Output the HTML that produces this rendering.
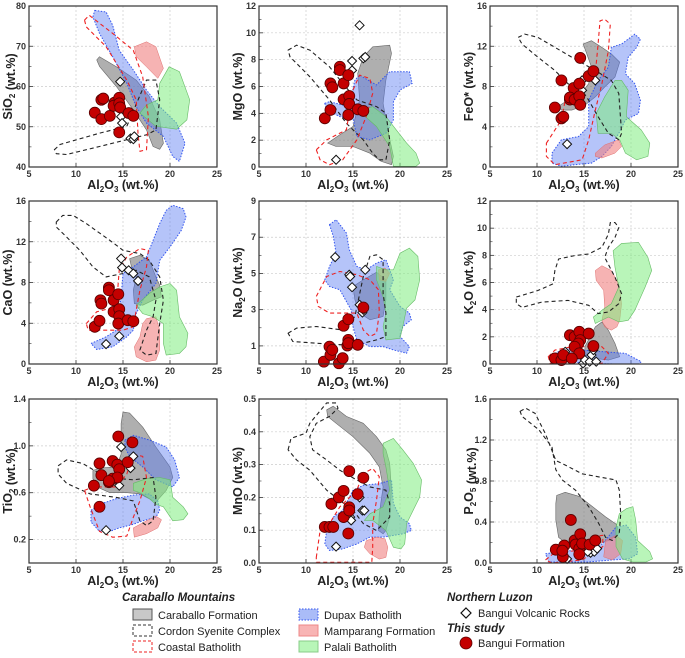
<!DOCTYPE html>
<html><head><meta charset="utf-8"><style>
body{margin:0;background:#fff;width:685px;height:653px;overflow:hidden;font-family:"Liberation Sans",Arial,sans-serif}
svg text{font-family:"Liberation Sans",Arial,sans-serif}
</style></head><body>
<svg id="chart" width="685" height="653" viewBox="0 0 685 653" xmlns="http://www.w3.org/2000/svg"></svg>
<script>
// ---- data ----
const xTicks=[5,10,15,20,25];
const panelIds=['sio2','mgo','feo','cao','na2o','k2o','tio2','mno','p2o5'];
const yLabels=[['SiO','2',''],['MgO','',''],['FeO*','',''],['CaO','',''],['Na','2','O'],['K','2','O'],['TiO','2',''],['MnO','',''],['P','2','O5']];
const yMins=[40,0,0,0,0,0,0,0,0];
const yMaxs=[80,12,16,16,9,12,1.4,0.5,1.6];
const yTickSets=[[40,50,60,70,80],[0,2,4,6,8,10,12],[0,4,8,12,16],[0,4,8,12,16],[1,3,5,7,9],[0,2,4,6,8,10,12],[0.2,0.6,1.0,1.4],[0.0,0.1,0.2,0.3,0.4,0.5],[0.0,0.4,0.8,1.2,1.6]];
const yTickDec=[0,0,0,0,0,0,1,1,1];

const caraballoFields=[
[[12.2,66.6],[12.5,67.4],[14.3,64.9],[16.4,61.6],[17.8,57.5],[18.9,51.7],[19.3,45.9],[18.9,44.4],[18.2,45.1],[17.5,49.2],[16.1,54.2],[14.3,60],[12.5,65]],
[[12.3,1.78],[13.6,2.4],[15,3.02],[15.7,5],[15.5,6.98],[16.1,8.21],[17.1,8.96],[18.9,9.08],[19.1,8.46],[18.5,6.48],[18.2,4.75],[18.7,2.77],[19.3,0.79],[19.1,0.17],[18,0.42],[16.8,1.03],[15,1.53],[13.2,1.53]],
[[14.9,12.22],[15.8,12.55],[16.9,11.89],[17.9,11.24],[18.8,10.42],[18.3,8.94],[17.2,7.95],[16.2,6.97],[15.1,6.14],[13.7,5.65],[12.6,5.65],[12.3,6.05],[13,6.47],[14.4,6.97],[15.5,8.28],[15.8,9.92],[15.3,11.24]],
[[15.7,10.35],[16.8,10.67],[17.8,10.18],[18.5,8.55],[18.9,7.73],[19.1,6.59],[18.2,6.26],[17.1,5.77],[16.2,5.93],[16.1,7.24],[16.4,8.55],[15.9,9.53]],
[[15,4.28],[16.1,4.65],[17.5,5.07],[18.5,4.65],[18.5,3.54],[18.2,2.62],[16.8,2.44],[15.7,2.81],[15.2,3.54]],
[[15.1,1.27],[16.2,2.73],[16.9,3.1],[17.6,2.49],[18.3,1.51],[18.8,0.54],[17.6,0.29],[16.2,0.41],[15.1,0.66]],
[[11.8,0.79],[12.5,0.81],[14.3,0.82],[14.8,0.93],[14.8,1.19],[15,1.29],[15.7,1.28],[17.1,1.16],[18.5,0.99],[20,0.82],[20.3,0.73],[19.6,0.62],[18.5,0.52],[17.5,0.56],[16.8,0.59],[15.4,0.6],[13.6,0.6],[12.2,0.65],[11.8,0.72]],
[[12.2,0.467],[12.9,0.478],[14.3,0.447],[16.1,0.426],[17.5,0.385],[18.5,0.345],[18.9,0.304],[19.1,0.222],[18.9,0.14],[18.5,0.099],[18.2,0.089],[17.7,0.099],[17.8,0.15],[18.2,0.232],[17.8,0.293],[16.8,0.334],[15,0.385],[13.2,0.426],[12.3,0.447]],
[[12.1,0.66],[13,0.69],[14.5,0.65],[15.9,0.55],[17.3,0.45],[18.4,0.38],[18.75,0.29],[17.7,0.22],[16.25,0.19],[14.8,0.16],[13.4,0.17],[12.3,0.25],[12,0.42],[12,0.58]]
];
const dupaxFields=[
[[[12,78.9],[13.2,78.5],[13.9,75.2],[14.6,69],[16.1,64.1],[17.5,59.1],[18.9,55],[20.7,50.9],[21.6,45.9],[21,41.4],[20.3,42.6],[19.3,47.6],[17.5,50.9],[16.4,55],[15.4,60.8],[13.9,67.4],[12.5,73.2],[11.8,77.3]]],
[[[12,4.75],[12.5,4.87],[14.6,4.5],[15.2,6.48],[15.7,6.85],[17.5,6.11],[18.9,7.1],[21,7.1],[21.3,6.23],[20,5.74],[19.3,4.87],[19.3,3.51],[18.5,2.52],[16.8,2.02],[15.4,2.27],[15,3.63],[13.6,3.76],[12.2,4.25]]],
[[[11.6,1.38],[12.6,2.7],[14.4,3.02],[15.5,4.01],[15.5,6.64],[16.5,8.61],[17.6,9.92],[17.9,11.89],[19,12.22],[20.4,13.2],[21,12.7],[20.6,11.89],[19.7,10.91],[19.4,9.26],[20.4,8.28],[21,6.64],[20.8,5.32],[19.4,4.67],[18.7,3.35],[17.9,2.04],[16.9,1.05],[15.8,0.39],[14,0.23],[12.6,0.07],[11.6,0.39]]],
[[[11.6,2.01],[13.2,2.67],[14.3,3.32],[14.8,6.59],[15,8.88],[16.1,9.53],[17.5,10.51],[18.2,12.14],[18.9,13.78],[19.6,15.08],[20.3,15.58],[21.4,15.25],[21.7,14.43],[21.2,13.12],[20,11.49],[18.9,10.18],[18.5,7.9],[17.1,6.26],[16.4,4.95],[16.1,3.32],[15.4,2.67],[13.9,1.69],[12.2,1.42]]],
[[[12.5,7.69],[13.2,7.97],[14.3,7.23],[14.6,6.31],[15.4,5.39],[16.4,5.2],[17.5,5.57],[18.5,5.76],[19.3,4.65],[18.9,4.1],[20,3.18],[21,2.81],[21.2,2.44],[20.3,2.07],[20,1.52],[21,0.96],[20.7,0.59],[19.3,0.78],[18.2,0.96],[16.8,0.96],[15.4,1.33],[15,2.07],[14.8,2.99],[13.6,4.1],[12.5,4.28],[12,4.65],[12.5,5.39],[13.2,6.12],[12.9,7.05]]],
[[[11.9,0.78],[13,1.15],[14.8,1.02],[17.2,0.9],[19.4,0.78],[21.1,0.17],[20.8,0],[18.3,0],[15.5,0.05],[13,0.17],[11.9,0.41]]],
[[[15.2,1.05],[16.1,1.09],[17.8,1.05],[19.6,0.99],[20.5,0.88],[21,0.73],[20.3,0.65],[18.5,0.71],[17.1,0.82],[15.7,0.91],[15.2,0.99]],
 [[11.6,0.45],[12.5,0.5],[14.3,0.55],[16.1,0.58],[17.8,0.59],[18.7,0.53],[18.9,0.45],[18.5,0.39],[17.1,0.36],[16.1,0.33],[14.6,0.3],[13.6,0.27],[12.5,0.27],[11.6,0.35]]],
[[[12.2,0.099],[12.9,0.14],[13.9,0.161],[15,0.222],[16.1,0.237],[17.8,0.242],[19.1,0.253],[19.3,0.181],[20,0.14],[21,0.12],[21.2,0.099],[20.3,0.089],[18.2,0.079],[16.8,0.079],[15.4,0.058],[13.9,0.043],[12.5,0.038],[12,0.058]]],
[[[10.9,0.09],[13,0.12],[15.5,0.12],[17,0.19],[18.4,0.35],[19.5,0.37],[20.5,0.25],[20.7,0.09],[19.8,0.04],[18,0.03],[15.5,0.01],[13,0.01],[11.25,0.01]]]
];
const mamparangFields=[
[[16.2,69.9],[17.5,71.1],[18.5,69.9],[19.3,64.5],[18.7,62],[17.5,64.9],[16.4,67.4]],
[],
[[16.2,1.38],[17.2,2.2],[18.7,2.7],[19,2.04],[18.3,1.38],[16.9,0.89],[16.2,1.05]],
[[17.5,4.46],[18.5,4.63],[18.9,3.32],[18.9,1.36],[18.5,0.38],[17.5,0.22],[16.4,0.71],[16.2,1.69],[16.8,2.67],[17.1,3.97]],
[[17.7,5.2],[18.4,5.3],[18.9,5.02],[18.5,4.56],[17.8,4.65]],
[[16.2,6.88],[16.9,7.24],[17.9,6.88],[18.7,5.9],[19,4.44],[18.8,3.22],[18.5,2.73],[17.9,2.49],[17.2,2.73],[16.9,3.22],[17.2,4.2],[17.1,5.41],[16.3,6.15]],
[[16.1,0.3],[17.5,0.36],[18.5,0.4],[19.1,0.37],[18.7,0.3],[17.5,0.25],[16.2,0.22]],
[[16.4,0.068],[17.5,0.079],[18.4,0.074],[18.7,0.048],[18.5,0.017],[17.8,0.012],[16.8,0.028],[16.2,0.048]],
[[17.3,0.22],[18.4,0.27],[19.1,0.22],[18.9,0.09],[18,0.03],[17.1,0.06]]
];
const palaliFields=[
[[18.9,60.8],[19.9,64.9],[21,63.7],[22.1,56.7],[21.8,51.7],[20.7,49.4],[18.5,50.1],[16.8,53.4],[17.5,55.4],[18.7,56.7]],
[[16.1,4.25],[17.1,4.5],[18.5,3.76],[19.6,2.77],[20.7,1.78],[21.7,1.03],[22.1,0.29],[21.7,0.05],[19.3,0.05],[18.9,1.53],[17.5,3.02],[16.1,3.88]],
[[18.3,8.61],[19,8.61],[19.7,7.62],[19.5,5],[21.1,3.68],[22,2.37],[21.8,1.05],[20.6,0.72],[19.4,1.38],[18.8,2.7],[17.9,3.35],[16.5,3.35],[16.3,5.32],[17.2,6.97]],
[[16.4,5.77],[17.8,6.92],[18.9,7.57],[20,7.9],[20.7,7.24],[21,4.63],[21.9,3],[21.7,1.69],[21,1.03],[19.6,0.87],[19.3,2.01],[19.3,3.97],[18.2,4.63],[17.1,4.95]],
[[17.5,5.39],[18.5,5.2],[19.3,5.2],[20,6.12],[21,6.4],[21.9,5.94],[22.1,4.65],[21.6,3.54],[20.7,3.08],[20.3,2.07],[20,1.42],[18.5,1.33],[18.2,2.07],[18.5,2.81],[18.2,3.72],[17.5,4.65]],
[[18.1,8.34],[19,8.88],[20.8,8.95],[21.8,7.85],[22.2,6.88],[21.5,5.66],[20.4,3.95],[19.7,3.22],[18.7,3.1],[17.6,3.46],[16.2,2.98],[16,3.46],[16.9,3.95],[17.9,4.44],[18.7,5.66],[18.3,7.12]],
[[16.1,0.68],[17.5,0.72],[18.9,0.73],[20,0.71],[20.3,0.56],[21.4,0.48],[21.9,0.42],[21.4,0.37],[20.3,0.36],[19.3,0.48],[18.5,0.5],[17.8,0.55],[16.8,0.6],[16.1,0.62]],
[[18.2,0.365],[19.3,0.38],[20.3,0.345],[21.4,0.304],[22.3,0.253],[22.1,0.201],[21.4,0.161],[20.7,0.12],[20.5,0.058],[20.1,0.043],[19.3,0.048],[18.5,0.099],[17.1,0.13],[16.2,0.13],[16.8,0.15],[18.2,0.171],[18.9,0.222],[18.5,0.293],[18.2,0.334]],
[[18.4,0.35],[18.75,0.48],[19.5,0.53],[20.2,0.55],[20.5,0.42],[20.7,0.22],[22,0.11],[22.3,0.04],[21.6,0.01],[20.2,0.01],[19.1,0.04],[18.4,0.16]]
];
const cordonFields=[
[[7.7,44.3],[8.3,45.6],[12.5,48.4],[15.4,50.1],[17.5,61.6],[18.5,61.6],[18.9,56.7],[18.5,49.2],[17.5,48],[12.5,45.1],[9,43.1],[7.9,43.3]],
[[8.1,8.71],[9,9.08],[10.4,8.71],[12.5,7.47],[13.9,6.23],[15.4,5],[17.5,4.5],[18.5,4.01],[18.9,2.02],[18.5,0.54],[17.8,0.54],[17.1,1.03],[16.1,2.02],[14.3,3.26],[12.5,5],[10.4,6.73],[8.3,8.21]],
[[8,12.88],[8.7,13.21],[10.1,12.88],[13.7,10.91],[16.2,9.59],[17.9,8.61],[18.7,7.3],[19,3.35],[18.7,2.7],[17.6,3.35],[16.5,5],[15.5,6.64],[14.8,7.62],[13.3,8.28],[11.9,9.59],[10.1,10.91],[8.4,12.22]],
[[7.9,13.94],[8.6,14.59],[9.7,14.59],[11.1,13.78],[13.6,12.14],[15,11.16],[16.8,10.84],[17.8,10.18],[18.9,8.55],[19.3,6.26],[18.9,3.97],[18.5,1.03],[17.5,0.87],[16.8,1.36],[17.5,3.32],[18.2,4.63],[18.5,6.26],[17.8,8.55],[16.4,9.2],[15,8.88],[13.2,8.55],[11.8,9.53],[10.4,11.16],[9,12.47],[7.9,13.45]],
[[8.1,1.7],[9,1.98],[11.1,2.07],[13.9,1.88],[15.2,2.62],[16.1,4.83],[16.8,5.94],[17.5,6.03],[18.2,5.76],[18.2,3.91],[18.5,2.81],[18.5,1.52],[17.5,1.33],[16.1,1.15],[13.9,1.06],[11.1,1.15],[8.6,1.24]],
[[7.8,4.93],[8.4,5.05],[10.1,5.41],[11.7,5.9],[11.9,6.88],[12.3,7.73],[14,7.98],[15.5,8.1],[16.9,8.59],[17.6,9.56],[17.8,10.41],[18.3,10.41],[18.7,10.05],[18.3,9.32],[17.6,8.59],[17.2,7.85],[18.3,6.39],[19,5.17],[18.7,4.44],[17.6,3.83],[16.5,3.71],[15.5,4.32],[13.3,4.68],[10.5,4.56],[8.4,4.17],[7.8,4.44]],
[[8.1,0.83],[9,0.88],[10.7,0.85],[13.2,0.73],[16.1,0.71],[18.2,0.73],[18.5,0.56],[18.2,0.36],[17.5,0.32],[16.8,0.36],[16.1,0.53],[14.3,0.56],[11.5,0.59],[9,0.68],[8.1,0.76]],
[[8.1,0.345],[8.4,0.38],[10,0.396],[10.4,0.426],[12.2,0.488],[13.2,0.488],[13.4,0.472],[12.5,0.447],[11.1,0.426],[10.4,0.385],[10.7,0.345],[12.2,0.314],[13.6,0.283],[15.4,0.253],[16.8,0.232],[18.5,0.222],[18.9,0.181],[18.9,0.14],[17.5,0.099],[16.1,0.12],[15,0.161],[13.6,0.191],[12.2,0.222],[10.4,0.283],[9,0.314]],
[[8.2,1.48],[8.8,1.51],[9.8,1.46],[10.9,1.26],[12,1],[12.7,0.97],[14.8,0.87],[16.6,0.84],[18.4,0.81],[18.75,0.71],[18.9,0.48],[18.75,0.29],[18,0.22],[17.3,0.25],[16.6,0.38],[15.5,0.55],[14.1,0.71],[12.7,0.81],[12,0.91],[11.6,1.13],[10.2,1.3],[8.4,1.43]]
];
const coastalFields=[
[[10.9,76.5],[11.4,77.7],[13.9,73.2],[16.1,69],[17.1,62.4],[17.7,52.5],[17.5,44.3],[16.8,43.9],[16.6,48.4],[16.4,56.7],[15.4,61.6],[13.2,69.9],[11.1,74.8]],
[[11.1,1.28],[12.2,2.02],[14.3,2.77],[15,5.74],[15.7,6.85],[16.8,6.6],[17.1,5.49],[16.4,3.76],[15.4,2.02],[13.9,0.54],[12.5,0.17],[11.5,0.54]],
[[11,2.37],[11.9,3.68],[12.6,4.67],[13,6.64],[14.8,7.95],[16.2,9.26],[16.5,12.22],[16.7,14.52],[17.2,14.69],[17.8,14.2],[17.6,11.56],[16.9,8.28],[16.2,5.65],[15.5,2.7],[14.8,0.72],[11.9,0.23],[11,1.05]],
[[11.1,3.97],[12.2,5.12],[14.3,5.61],[14.6,9.2],[15.4,10.51],[16.8,11.33],[17.7,11.16],[17.5,9.53],[16.8,7.24],[16.4,5.28],[16.1,3.65],[15,3.32],[12.5,3.32],[11.3,3.32]],
[[11.1,3.73],[12.2,4.83],[13.6,5.11],[15.4,4.93],[16.8,4.65],[17.7,4.1],[17.8,2.81],[17.5,1.7],[16.8,1.52],[16.1,1.88],[15.4,2.81],[13.9,2.81],[12.5,2.81],[11.3,3.18]],
[[11.2,0.54],[11.9,1.02],[13.7,1.27],[16.9,1.27],[17.6,0.78],[16.9,0.05],[13.3,0],[11.4,0.05]],
[[10.9,0.62],[11.8,0.65],[14.3,0.65],[15.4,0.76],[16.1,0.93],[17.1,0.91],[17.5,0.73],[16.8,0.53],[16.1,0.39],[15.4,0.23],[13.9,0.22],[12.5,0.27],[11.5,0.48]],
[[11.1,0.017],[11.5,0.099],[12.5,0.12],[13.6,0.171],[15.4,0.222],[16.1,0.273],[17.1,0.288],[17.8,0.263],[17.5,0.191],[17.1,0.12],[17.1,0.048],[17,0.002],[11.1,0.002]],
[[10.9,0.03],[12,0.11],[14.8,0.12],[16.25,0.26],[17,0.27],[17,0.16],[14.8,0.03],[11.6,0.0]]
];
const bfAl=[
[12,12.7,12.9,12.7,13.6,14.1,14,14.6,14.6,14.7,14.6,15.6,16.1],
[12,12.6,12.6,12.8,13.6,13.6,14,14,14.5,14.6,14.6,14.5,15.5,16.1],
[11.9,12.6,12.8,12.6,13.9,13.5,13.5,14,14.5,14.5,14.6,14.6,15.5,16],
[12,12.5,12.6,12.7,13.5,13.5,14,14,14.5,14.6,14.6,14.5,15.5,16.1],
[11.9,12.5,12.6,12.8,13.5,13.9,14,14.5,14.5,14.4,14.5,15.5,16.1],
[11.9,12.6,12.8,13.5,14,14.5,14.6,14.4,14,14.5,15.5,16,13.7],
[11.9,12.5,12.5,12.7,13.5,13.9,13.9,14.5,14.4,14.6,14.4,15.5,16,13.5],
[12,12.5,12.9,12.7,13.5,14,14,14.6,14.6,14.6,14.5,15.5,16.1],
[12,12.75,12.9,12.7,13.6,14,14.1,14.6,14.5,14.5,14.8,15.6,16.2]
];
const bfY=[
[53.5,56.7,57,51.9,52.7,56,55.2,57.2,55.8,54.8,48.6,53.4,52.7],
[3.63,4.25,6.23,5.94,7.47,7.22,6.23,5.04,6.85,5.29,4.7,3.88,4.3,4.18],
[5.91,4.83,4.99,8.61,7.85,6.7,6.9,6.7,8.28,7.03,6.18,10.84,9.04,9.53],
[3.65,4.24,6.26,5.93,7.5,7.24,6.26,5.12,6.85,5.38,4.69,3.97,4.3,4.2],
[0.13,0.96,0.5,0.78,0.04,0.32,2.11,2.47,1.33,1.02,1.15,1.06,3.12],
[0.41,0.29,0.66,2.12,2,2.37,1.76,1.51,1.27,0.78,2.24,1.32,0.41],
[0.66,0.48,0.85,0.75,0.69,0.72,0.87,1.08,0.84,0.8,0.73,0.86,1.03,0.7],
[0.11,0.11,0.11,0.18,0.2,0.22,0.14,0.28,0.17,0.16,0.09,0.21,0.26],
[0.13,0.06,0.17,0.12,0.42,0.22,0.18,0.28,0.14,0.085,0.19,0.18,0.22]
];
const bvAl=[
[14.7,14.8,14.9,15.8,16.1,16.2],
[15.7,14.9,14.9,16.1,16.3,13.2],
[13.2,14.8,14.8,16.2],
[14.8,14.9,15.6,16.1,16.6,14.6,13.2],
[13.1,14.6,14.7,14.9,15.7,16,16.1,16.3],
[13,14.9,15.1,15.6,15.8,16.3,16],
[13.2,14.6,14.8,15.8,16.1],
[13.2,14.7,14.8,15.7,16,16.2],
[13.2,15.7,16.1,16.4,15.4]
];
const bvY=[
[61.2,52.5,50.9,47.1,46.9,47.6],
[10.56,7.9,7.2,8.1,8.2,0.54],
[2.27,8.61,7.62,8.61],
[10.35,9.46,9.2,8.88,8.16,2.73,1.95],
[5.9,4.93,4.83,4.24,3.27,2.84,2.99,5.2],
[0.9,0.05,0.29,0.17,0.66,0.17,1.02],
[0.28,0.66,0.99,0.81,0.91],
[0.05,0.14,0.13,0.2,0.16,0.16],
[0.04,0.1,0.11,0.14,0.11]
];

const colL=[29,259,490], colW=188;
const rowT=[6,201,399], rowB=[167,364,563];
const NS='http://www.w3.org/2000/svg';
const svg=document.getElementById('chart');
function el(tag,attrs,parent){const e=document.createElementNS(NS,tag);for(const k in attrs)e.setAttribute(k,attrs[k]);(parent||svg).appendChild(e);return e;}

panelIds.forEach((id,i)=>{
  const c=i%3,r=Math.floor(i/3);
  const L=colL[c],R=L+colW,T=rowT[r],B=rowB[r];
  const yMin=yMins[i],yMax=yMaxs[i];
  const sx=v=>L+(v-5)/20*colW;
  const sy=v=>B-(v-yMin)/(yMax-yMin)*(B-T);
  const g=el('g',{});
  
  
  const clipId='clip'+i;
  const cp=el('clipPath',{id:clipId},g);el('rect',{x:L,y:T,width:colW,height:B-T},cp);
  xTicks.forEach(t=>{
    if(t>5&&t<25) el('line',{x1:sx(t),x2:sx(t),y1:T,y2:B,stroke:'#ccc','stroke-width':0.7,'stroke-dasharray':'2,2'},g);
    el('line',{x1:sx(t),x2:sx(t),y1:B,y2:B-4,stroke:'#333','stroke-width':0.8},g);
    const tx=el('text',{x:sx(t),y:B+10,'font-size':9,'font-weight':'bold','text-anchor':'middle',fill:'#333'},g);
    tx.textContent=t;
    
    
  });
  const yt=yTickSets[i];
  const step=yt[1]-yt[0];
  yt.forEach(t=>{
    if(sy(t)>T+1&&sy(t)<B-1) el('line',{x1:L,x2:R,y1:sy(t),y2:sy(t),stroke:'#ccc','stroke-width':0.7,'stroke-dasharray':'2,2'},g);
    el('line',{x1:L,x2:L+4,y1:sy(t),y2:sy(t),stroke:'#333','stroke-width':0.8},g);
    const m=t+step/2; if(m<yMax) el('line',{x1:L,x2:L+2.5,y1:sy(m),y2:sy(m),stroke:'#333','stroke-width':0.6},g);
    const ty=el('text',{x:L-3,y:sy(t)+3,'font-size':9,'font-weight':'bold','text-anchor':'end',fill:'#333'},g);
    ty.textContent=t.toFixed(yTickDec[i]);
    
    
  });
  const clipG=el('g',{'clip-path':'url(#'+clipId+')'},g);
  const pts=a=>a.map(p=>sx(p[0]).toFixed(1)+','+sy(p[1]).toFixed(1)).join(' ');
  const poly=(a,attrs,name)=>{if(!a.length)return;const p=el('polygon',Object.assign({points:pts(a),'stroke-linejoin':'round'},attrs),clipG);
    
    };
  poly(caraballoFields[i],{fill:'#7a7a7a','fill-opacity':0.6,stroke:'#666','stroke-width':0.6},'caraballo-formation-field');
  dupaxFields[i].forEach(a=>poly(a,{fill:'#5c7cf2','fill-opacity':0.45,stroke:'#3355ee','stroke-width':1,'stroke-dasharray':'1.5,1.5'},'dupax-batholith-field'));
  poly(mamparangFields[i],{fill:'#f08080','fill-opacity':0.6,stroke:'#e07070','stroke-width':0.5},'mamparang-formation-field');
  poly(palaliFields[i],{fill:'#7fec7f','fill-opacity':0.55,stroke:'#66bb66','stroke-width':0.6},'palali-batholith-field');
  poly(cordonFields[i],{fill:'none',stroke:'#222','stroke-width':1.1,'stroke-dasharray':'4,3'},'cordon-syenite-complex-field');
  poly(coastalFields[i],{fill:'none',stroke:'#ee2222','stroke-width':1.1,'stroke-dasharray':'4,3'},'coastal-batholith-field');
  bvAl[i].forEach((a,k)=>{const x=sx(a),y=sy(bvY[i][k]);
    const d=el('polygon',{points:`${x},${y-4.5} ${x+4.5},${y} ${x},${y+4.5} ${x-4.5},${y}`,fill:'#fff',stroke:'#111','stroke-width':1},g);
    
    });
  bfAl[i].forEach((a,k)=>{
    const cc=el('circle',{cx:sx(a),cy:sy(bfY[i][k]),r:5.5,fill:'#c40000',stroke:'#5a0000','stroke-width':0.8},g);
    
    });
  el('rect',{x:L,y:T,width:colW,height:B-T,fill:'none',stroke:'#333','stroke-width':1.2},g);
  const xt=el('text',{x:L+colW/2,y:B+22,'font-size':12.5,'font-weight':'bold','text-anchor':'middle',fill:'#222'},g);
  xt.innerHTML='Al<tspan font-size="8" dy="3">2</tspan><tspan dy="-3">O</tspan><tspan font-size="8" dy="3">3</tspan><tspan dy="-3"> (wt.%)</tspan>';
  
  
  const lb=yLabels[i];
  const yx=L-17,ym=(T+B)/2;
  const ytl=el('text',{x:yx,y:ym,'font-size':12.5,'font-weight':'bold','text-anchor':'middle',fill:'#222',transform:`rotate(-90 ${yx} ${ym})`},g);
  let h=lb[0];
  if(lb[1])h+=`<tspan font-size="8" dy="3">${lb[1]}</tspan><tspan dy="-3">${lb[2].replace('5','<tspan font-size="8" dy="3">5</tspan><tspan dy="-3"></tspan>')}</tspan>`;
  h+=' (wt.%)';
  ytl.innerHTML=h;
  
  
});

const lg=el('g',{});


function txt(x,y,s,attrs){const t=el('text',Object.assign({x:x,y:y,'font-size':11,fill:'#222'},attrs||{}),lg);t.textContent=s;return t;}
const h1=txt(122,601,'Caraballo Mountains',{'font-weight':'bold','font-style':'italic','font-size':11.5});

const sw=[[133,609,'#c8c8c8','#555','none','Caraballo Formation'],[133,625,'none','#333','3,2','Cordon Syenite Complex'],[133,641,'none','#e22','3,2','Coastal Batholith'],
[299,609,'#aabcf8','#3355ee','1.5,1.5','Dupax Batholith'],[299,625,'#f8b4b4','#e88','none','Mamparang Formation'],[299,641,'#b8f6b8','#8c8','none','Palali Batholith']];
sw.forEach(s=>{
  const r=el('rect',{x:s[0],y:s[1],width:19,height:11,fill:s[2],stroke:s[3],'stroke-width':1,'stroke-dasharray':s[4]},lg);
  
  
  const t=txt(s[0]+25,s[1]+10,s[5]);
  
  
});
const h2=txt(447,601,'Northern Luzon',{'font-weight':'bold','font-style':'italic','font-size':11.5});

const dm=el('polygon',{points:'466,608 471,613 466,618 461,613',fill:'#fff',stroke:'#111','stroke-width':1.2},lg);

const t1=txt(478,617,'Bangui Volcanic Rocks');
const h3=txt(447,632,'This study',{'font-weight':'bold','font-style':'italic','font-size':11.5});

const rc=el('circle',{cx:466,cy:643,r:6,fill:'#c40000',stroke:'#5a0000','stroke-width':0.8},lg);

const t2=txt(478,647,'Bangui Formation');
</script>
</body></html>
